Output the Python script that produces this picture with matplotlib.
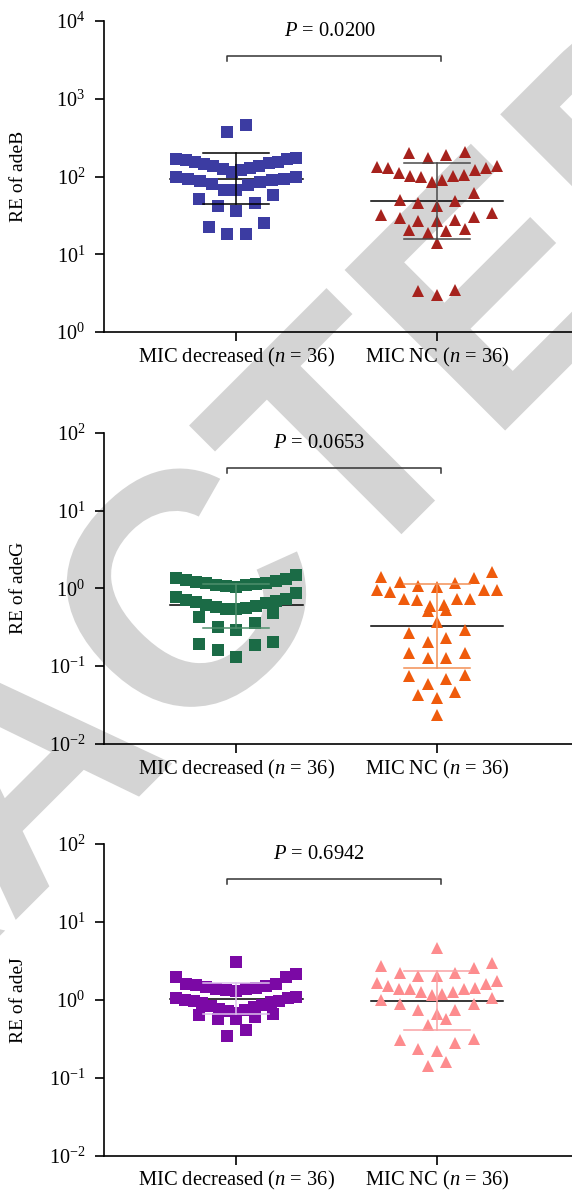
#!/usr/bin/env python3
"""
Relative expression of adeB / adeG / adeJ in MIC-decreased vs MIC-NC isolates.
Three stacked log-scale scatter-dot panels (mean + SD), with the grey
diagonal RETRACTED watermark behind them. Writes out.png.
"""

import matplotlib
matplotlib.use("Agg")
import matplotlib.pyplot as plt
import numpy as np
from matplotlib.font_manager import FontProperties
from matplotlib.patches import PathPatch
from matplotlib.textpath import TextPath
from matplotlib.transforms import Affine2D, blended_transform_factory
from matplotlib import ticker

plt.rcParams["font.family"] = ["Liberation Serif", "DejaVu Serif"]
plt.rcParams["mathtext.fontset"] = "custom"
plt.rcParams["mathtext.rm"] = "Liberation Serif"
plt.rcParams["mathtext.it"] = "Liberation Serif:italic"


# DATA

GROUPS = ["MIC decreased ($n$ = 36)", "MIC NC ($n$ = 36)"]
GENES = ["adeB", "adeG", "adeJ"]
P_VALUES = ["0.0200", "0.0653", "0.6942"]

ADEB_DECREASED = [457, 372,
                  171, 170, 166, 164, 155, 153, 147, 145, 136, 135, 127, 126, 120, 115,
                  99, 98, 94, 92, 90, 88, 85.5, 79.4, 77.4, 67.6, 66.8,
                  57.7, 50.8, 45.1, 41.7, 36.2, 24.9, 22.6, 18.3, 18.2]
ADEB_NC = [207.6, 202, 188, 174,
           135, 133, 127, 123, 112, 104, 102, 102, 99, 90, 85.5, 129,
           61.7, 49.8, 48.3, 45.1, 41.7,
           33.6, 31.9, 30.3, 28.9, 27.5, 27.0, 26.6,
           20.9, 20.6, 20.0, 18.9, 14.1,
           3.47, 3.40, 2.99]

ADEG_DECREASED = [1.48, 1.36, 1.31, 1.27, 1.24, 1.21, 1.18, 1.16, 1.13, 1.11, 1.09, 1.07, 1.05,
                  0.88, 0.78, 0.74, 0.70, 0.68, 0.66, 0.64, 0.61, 0.60, 0.58, 0.56, 0.55, 0.54,
                  0.48, 0.43, 0.36, 0.32, 0.295,
                  0.206, 0.192, 0.187, 0.161, 0.132]
ADEG_NC = [1.63, 1.41, 1.34, 1.22, 1.16, 1.08, 1.05,
           0.95, 0.95, 0.95, 0.89, 0.74, 0.74, 0.73, 0.71, 0.62, 0.60,
           0.53, 0.51, 0.37, 0.29, 0.264, 0.228, 0.202,
           0.149, 0.146, 0.126, 0.126, 0.078, 0.075, 0.068, 0.059,
           0.046, 0.0425, 0.039, 0.0235]

ADEJ_DECREASED = [3.06, 2.13, 1.96, 1.96, 1.61, 1.61, 1.54, 1.52, 1.46, 1.43, 1.39, 1.37, 1.33, 1.30,
                  1.09, 1.06, 1.04, 1.00, 0.97, 0.95, 0.93, 0.90, 0.86, 0.83, 0.80, 0.77, 0.74,
                  0.71, 0.68, 0.65, 0.63, 0.60, 0.57, 0.57, 0.41, 0.34]
ADEJ_NC = [4.55, 2.92, 2.72, 2.52, 2.17, 2.17, 2.02, 2.02,
           1.73, 1.66, 1.57, 1.50, 1.42, 1.36, 1.36, 1.36, 1.26, 1.24, 1.17, 1.14,
           1.04, 1.00, 0.89, 0.89, 0.73, 0.73, 0.665,
           0.56, 0.48, 0.317, 0.30, 0.28, 0.236, 0.218, 0.159, 0.142]

# mean, SD upper end, SD lower end for each group
ADEB_SUMMARY = [(92, 198, 44), (48, 147, 15.7)]
ADEG_SUMMARY = [(0.62, 1.15, 0.313), (0.331, 1.125, 0.0955)]
ADEJ_SUMMARY = [(1.03, 1.62, 0.655), (0.97, 2.34, 0.405)]


# STYLE / LAYOUT

W_PX, H_PX = 572, 1190
AX_LEFT_PX = 104
AX_ROWS_PX = [(21, 332), (432.7, 744), (843.7, 1155.7)]   # (top, bottom) in image px
XLIM = (-0.66, 1.673)
YLIMS = [(1, 1e4), (1e-2, 1e2), (1e-2, 1e2)]

MARKERS = ["s", "^"]
POINT_COLORS = [("#3c3ca2", "#a6221d"), ("#1b6b46", "#ef5b0c"), ("#7b09a5", "#fd8c8e")]
SD_COLORS = [("black", "#4a4a4a"), ("#4f8f6c", "#f39055"), ("#dcc0ec", "#f9a2a4")]
P_TEXT_X = [0.467, 0.411, 0.413]
WM_GREY = "#d4d4d4"

ROW_SPAN = 0.22     # decades covered by one swarm row
ROW_GAP = 0.10      # gap (decades) that always opens a new row
MAX_STEP_PX = 18.5
MAX_HALF_PX = 60.0


# FUNCTIONS

# Prism-like row layout: bin by value, smallest in the middle, alternate outwards.
def _swarm_offsets(values, px_per_unit):
    logs = np.log10(np.asarray(values, dtype=float))
    order = np.argsort(-logs, kind="stable")
    rows, cur = [], []
    for i in order:
        if cur and (logs[cur[0]] - logs[i] > ROW_SPAN or logs[cur[-1]] - logs[i] > ROW_GAP):
            rows.append(cur)
            cur = []
        cur.append(i)
    rows.append(cur)

    offsets = np.zeros(len(values))
    for row in rows:
        n = len(row)
        step = min(MAX_STEP_PX, 2 * MAX_HALF_PX / (n - 1)) if n > 1 else 0.0
        slots = (np.arange(n) - (n - 1) / 2) * step
        slot_order = sorted(range(n), key=lambda k: (abs(slots[k]), slots[k]))
        for i, k in zip(sorted(row, key=lambda j: logs[j]), slot_order):
            offsets[i] = slots[k] / px_per_unit
    return offsets


def _watermark(fig):
    fp = FontProperties(family="Liberation Sans", weight="bold")
    size = 330
    word = TextPath((0, 0), "RETRACTED", size=size, prop=fp)
    upto_c = TextPath((0, 0), "RETRAC", size=size, prop=fp).get_extents()
    c_ext = TextPath((0, 0), "C", size=size, prop=fp).get_extents()
    cx = upto_c.xmax - c_ext.width / 2
    cy = (c_ext.ymin + c_ext.ymax) / 2
    # centre of the "C" sits at image px (184, 591)
    tr = Affine2D().translate(-cx, -cy).rotate_deg(45).translate(184, H_PX - 591)
    patch = PathPatch(tr.transform_path(word), facecolor=WM_GREY, edgecolor="none",
                      transform=None, zorder=-10)
    patch.set_transform(matplotlib.transforms.IdentityTransform())
    fig.patches.append(patch)


def _panel(ax, gene, groups_vals, summary, colors, sd_colors, p_text, p_x, ylim):
    ax.set_facecolor("none")
    ax.set_yscale("log")
    ax.set_xlim(*XLIM)
    ax.set_ylim(*ylim)

    bbox = ax.get_window_extent()
    px_per_unit = bbox.width / (XLIM[1] - XLIM[0])

    for gi, vals in enumerate(groups_vals):
        xs = gi + _swarm_offsets(vals, px_per_unit)
        ax.plot(xs, vals, linestyle="none", marker=MARKERS[gi], markersize=9.2,
                color=colors[gi], markeredgewidth=0, zorder=3, clip_on=False)
        mean, hi, lo = summary[gi]
        ax.plot([gi - 0.33, gi + 0.33], [mean, mean], color="black", lw=1.1, zorder=2)
        c = sd_colors[gi]
        ax.plot([gi, gi], [lo, hi], color=c, lw=1.1, zorder=4)
        ax.plot([gi - 0.164, gi + 0.164], [hi, hi], color=c, lw=1.1, zorder=4)
        ax.plot([gi - 0.164, gi + 0.164], [lo, lo], color=c, lw=1.1, zorder=4)

    # significance bracket
    tb = blended_transform_factory(ax.transData, ax.transAxes)
    ax.plot([-0.047, -0.047, 1.018, 1.018], [0.872, 0.888, 0.888, 0.872],
            color="#333333", lw=1.1, transform=tb, clip_on=False)
    ax.text(p_x, 0.966, f"$P$ = {p_text}", transform=tb, ha="center", va="center",
            fontsize=14.8)

    ax.set_xticks([0, 1])
    ax.set_xticklabels(GROUPS, fontsize=14.8)
    ax.yaxis.set_major_locator(ticker.LogLocator(base=10, numticks=10))
    ax.yaxis.set_major_formatter(ticker.LogFormatterSciNotation())
    ax.yaxis.set_minor_locator(ticker.NullLocator())
    ax.tick_params(axis="y", labelsize=14.5, length=6.5, width=1.2, pad=7)
    ax.tick_params(axis="x", length=6.3, width=1.2, pad=3.5)
    for s in ("top", "right"):
        ax.spines[s].set_visible(False)
    for s in ("left", "bottom"):
        ax.spines[s].set_linewidth(1.2)
    ax.set_ylabel(f"RE of {gene}", fontsize=14)
    ax.yaxis.set_label_coords(-(AX_LEFT_PX - 27) / (W_PX - AX_LEFT_PX), 0.5)


def main():
    fig = plt.figure(figsize=(W_PX / 100, H_PX / 100), dpi=100)
    _watermark(fig)

    panels = [
        (ADEB_DECREASED, ADEB_NC, ADEB_SUMMARY),
        (ADEG_DECREASED, ADEG_NC, ADEG_SUMMARY),
        (ADEJ_DECREASED, ADEJ_NC, ADEJ_SUMMARY),
    ]
    for k, (dec, nc, summ) in enumerate(panels):
        top, bot = AX_ROWS_PX[k]
        ax = fig.add_axes([AX_LEFT_PX / W_PX, 1 - bot / H_PX,
                           1 - AX_LEFT_PX / W_PX, (bot - top) / H_PX])
        _panel(ax, GENES[k], [dec, nc], summ, POINT_COLORS[k], SD_COLORS[k],
               P_VALUES[k], P_TEXT_X[k], YLIMS[k])

    fig.savefig("out.png", dpi=100)
    plt.close(fig)


if __name__ == "__main__":
    main()
